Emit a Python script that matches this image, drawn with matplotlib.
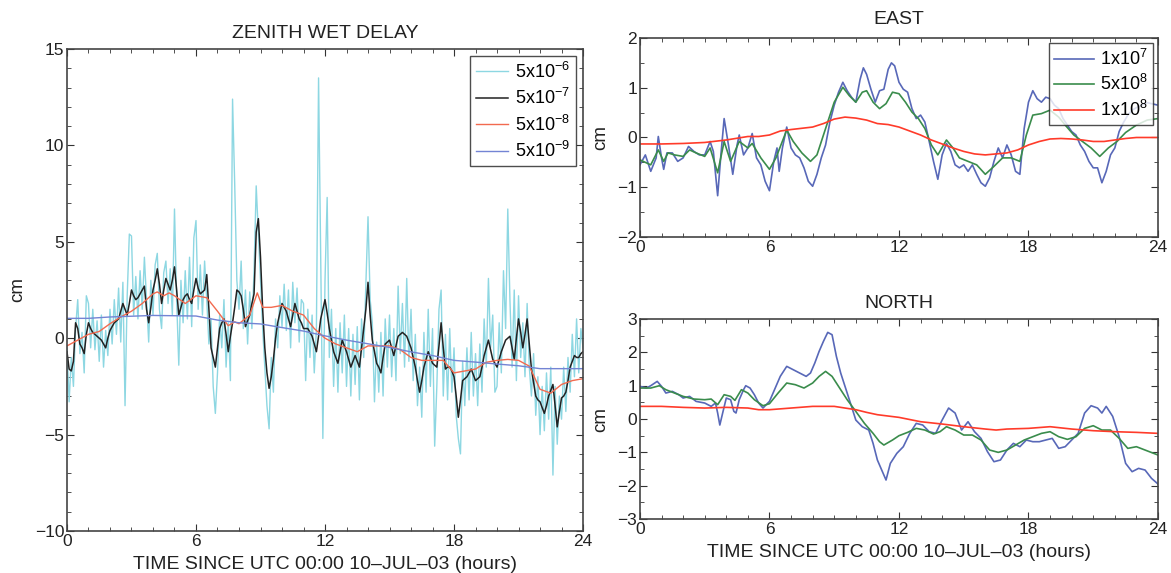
import numpy as np
import matplotlib
matplotlib.use("Agg")
import matplotlib.pyplot as plt
from matplotlib.ticker import MultipleLocator

plt.rcParams['font.family'] = ['Liberation Sans', 'DejaVu Sans']
plt.rcParams['mathtext.default'] = 'regular'

# ---- zenith wet delay, sampled every 0.1 h (cm) ----
zwd_t = np.linspace(0, 24, 241)
zwd_5e6 = [
    -0.5, -3.3, -1.0, -2.5, 0.5, 2.0, -0.8, 0.3, -1.8, 2.2,
    1.8, -0.5, 1.5, -0.6, 0.9, -1.2, 1.2, -1.5, 0.4, -0.9,
    1.5, -0.3, 2.0, 0.2, 2.6, -0.2, 2.9, -3.5, 2.2, 5.4,
    5.3, 1.2, 3.2, 1.0, 3.5, 1.5, 4.2, 2.0, -0.2, 3.0,
    1.2, 3.8, 4.4, 1.5, 0.5, 3.4, 4.0, 1.8, 3.6, 1.2,
    6.7, 2.0, -1.4, 3.0, 0.8, 3.5, 1.0, 4.2, 0.6, 5.2,
    6.1, 1.5, 3.8, 1.2, 4.0, 2.0, -0.3, 1.0, -2.5, -3.9,
    -1.8, 1.2, -0.5, 2.0, -1.5, 0.8, -2.2, 12.4, 8.0, 3.0,
    1.5, 4.0, 0.5, 2.5, -0.3, 2.4, 0.5, 3.5, 7.9, 5.5,
    3.0, 0.5, -1.5, -3.5, -4.7, -1.0, -2.8, 1.0, -0.5, 2.2,
    0.6, 2.8, 0.4, 2.5, -0.5, 2.9, 0.8, 2.6, -0.2, 2.0,
    1.8, -2.2, 1.5, -1.0, 1.2, -1.8, 0.5, 13.5, 4.0, -5.2,
    3.0, 7.3, -1.0, 1.5, -2.5, 0.5, -2.8, 0.8, -1.8, 1.2,
    -2.5, 0.5, -3.0, 0.2, -2.4, 0.6, -3.2, 1.0, -1.0, 2.8,
    6.3, 2.0, 0.8, -3.3, -0.2, -2.8, 0.3, -3.0, 1.0, -1.5,
    1.2, -2.0, 0.5, -2.2, 2.7, -0.8, 1.8, -1.5, 3.1, -1.2,
    1.5, -2.2, 0.2, -3.5, -1.5, -4.1, 0.3, -2.8, 1.5, -2.5,
    0.5, -5.6, -2.5, 1.5, 2.5, -3.0, 0.2, -3.2, 0.5, -2.8,
    -0.5, -4.0, -5.2, -6.0, -1.2, -3.5, -0.5, -3.2, 0.3, -3.0,
    -0.8, -3.5, -0.3, -2.8, 1.0, -1.5, 3.1, -0.5, 1.2, -2.8,
    -2.5, 0.8, -1.8, 3.5, 0.5, 6.7, 2.0, -1.5, 2.5, -2.2,
    2.2, -1.0, 0.8, -2.0, 1.8, -1.5, -3.0, -0.8, -4.0, -2.0,
    -5.0, -2.5, -4.8, -1.8, -4.2, -1.5, -7.1, -2.5, -5.5, -3.0,
    -4.2, -1.5, -3.8, -1.0, -2.8, 0.2, -2.0, 1.0, -1.8, 0.5,
    -0.5]
zwd_5e7 = [
    -0.7, -1.6, -1.7, -1.2, 0.8, 0.5, -0.3, -0.5, -0.8, 0.2,
    0.8, 0.5, 0.3, 0.2, 0.1, 0.0, -0.1, -0.3, -0.5, 0.0,
    0.4, 0.6, 0.8, 0.9, 1.0, 1.4, 1.8, 1.5, 1.2, 1.8,
    2.5, 2.2, 2.0, 2.1, 2.3, 2.5, 2.7, 1.5, 0.8, 1.6,
    2.5, 3.0, 3.6, 2.8, 1.8, 2.5, 3.1, 2.8, 2.5, 3.0,
    3.7, 2.5, 1.2, 1.6, 2.0, 2.2, 2.3, 2.0, 1.8, 2.5,
    3.1, 2.6, 2.3, 2.4, 2.5, 3.3, 1.5, -0.5, -1.0, -1.5,
    -0.5, 0.5, 0.8, 1.0, 0.2, -0.7, 0.1, 0.8, 1.6, 2.5,
    2.4, 2.2, 1.5, 0.6, 0.9, 1.2, 1.8, 2.3, 5.5, 6.2,
    4.2, 1.5, -0.5, -1.8, -2.6, -2.0, -1.1, 0.0, 0.8, 1.3,
    1.8, 1.6, 1.4, 1.0, 0.6, 1.2, 1.8, 1.4, 1.0, 0.8,
    0.5, 0.5, 0.5, 0.3, 0.1, -0.3, -0.7, 0.1, 1.0, 1.5,
    2.0, 1.3, 0.5, -0.1, -0.7, -1.0, -1.3, -0.7, -0.1, -0.4,
    -0.7, -1.1, -1.5, -1.2, -0.9, -1.2, -1.5, -0.5, 0.5, 1.5,
    2.9, 1.2, -0.1, -0.7, -1.3, -1.5, -1.8, -1.0, -0.3, -0.2,
    -0.1, -0.5, -0.9, -0.4, 0.1, 0.2, 0.3, 0.2, 0.1, -0.2,
    -0.5, -1.0, -1.5, -2.2, -2.8, -2.2, -1.5, -1.1, -0.7, -1.0,
    -1.3, -1.4, -1.5, -0.4, 0.8, -0.5, -1.6, -1.5, -1.5, -1.7,
    -2.0, -3.0, -4.1, -3.2, -2.2, -2.1, -2.0, -1.8, -1.6, -1.9,
    -2.2, -2.1, -2.0, -1.5, -0.9, -0.5, -0.1, -0.6, -1.1, -1.3,
    -1.5, -1.1, -0.7, -0.4, -0.1, 0.0, 0.1, -0.5, -1.1, 0.0,
    1.0, 0.3, -0.5, 0.2, 1.0, -0.3, -1.6, -2.3, -3.0, -3.2,
    -3.3, -3.6, -3.9, -3.5, -3.0, -2.7, -2.4, -3.5, -4.6, -3.8,
    -3.1, -3.0, -2.8, -2.2, -1.5, -1.2, -0.9, -1.0, -1.0, -0.8,
    -0.7]

zwd8_t = [0, 0.5, 1, 1.5, 2, 2.5, 3, 3.5, 4, 4.2, 4.5, 4.75, 5, 5.5, 6, 6.5, 7,
          7.5, 7.8, 8, 8.5, 8.85, 9.1, 9.5, 10, 10.5, 11, 11.5, 12, 12.5, 13,
          13.5, 14, 14.5, 15, 15.5, 16, 16.5, 17, 17.5, 18, 18.5, 19, 19.5,
          20, 20.5, 21, 21.5, 22, 22.5, 23, 23.5, 24]
zwd_5e8 = [-0.4, -0.1, 0.2, 0.35, 0.75, 1.1, 1.4, 1.8, 2.3, 2.4, 2.2, 2.35, 2.2,
           1.8, 2.2, 2.1, 1.4, 0.65, 0.85, 0.75, 1.2, 2.35, 1.6, 1.6, 1.7, 1.4,
           1.2, 0.5, 0.0, -0.3, -0.5, -0.7, -0.4, -0.4, -0.4, -0.6, -1.0, -1.15,
           -1.15, -1.15, -1.8, -1.7, -1.6, -1.25, -1.15, -1.1, -1.15, -1.45,
           -2.65, -2.85, -2.4, -2.2, -2.1]

zwd9_t = [0, 1, 2, 4, 6, 7, 8, 9, 10, 11, 12, 13, 14, 15, 16, 17, 18, 19, 20,
          21, 22, 23, 24]
zwd_5e9 = [1.03, 1.03, 1.1, 1.18, 1.15, 0.94, 0.80, 0.74, 0.55, 0.37, 0.12,
           -0.10, -0.29, -0.48, -0.71, -0.90, -1.15, -1.24, -1.34, -1.43,
           -1.58, -1.58, -1.58]

# ---- EAST (cm) ----
east7_t = [0, 0.25, 0.5, 0.75, 0.85, 1.0, 1.1, 1.25, 1.5, 1.75, 2.0, 2.25, 2.5,
           2.75, 3.0, 3.25, 3.4, 3.6, 3.75, 3.9, 4.1, 4.3, 4.5, 4.6, 4.8, 5.0,
           5.2, 5.4, 5.6, 5.8, 6.0, 6.2, 6.35, 6.45, 6.6, 6.8, 7.0, 7.2, 7.4,
           7.6, 7.8, 8.0, 8.2, 8.4, 8.6, 8.8, 9.0, 9.2, 9.4, 9.6, 9.8, 10.0,
           10.2, 10.35, 10.5, 10.7, 10.9, 11.1, 11.3, 11.5, 11.65, 11.8, 12.0,
           12.2, 12.4, 12.6, 12.8, 13.0, 13.2, 13.4, 13.6, 13.8, 14.0, 14.2,
           14.4, 14.6, 14.8, 15.0, 15.2, 15.4, 15.6, 15.8, 16.0, 16.2, 16.4,
           16.6, 16.8, 17.0, 17.2, 17.4, 17.6, 17.8, 18.0, 18.2, 18.4, 18.6,
           18.8, 19.0, 19.2, 19.4, 19.6, 19.8, 20.0, 20.2, 20.4, 20.6, 20.8,
           21.0, 21.2, 21.4, 21.6, 21.8, 22.0, 22.2, 22.4, 22.6, 22.8, 23.0,
           23.5, 24.0]
east_1e7 = [-0.55, -0.35, -0.68, -0.41, 0.02, -0.41, -0.64, -0.31, -0.31, -0.48,
            -0.41, -0.18, -0.28, -0.35, -0.35, -0.08, -0.28, -1.17, -0.35, 0.38,
            -0.15, -0.74, -0.15, 0.05, -0.35, -0.21, 0.08, -0.41, -0.55, -0.88,
            -1.07, -0.48, -0.21, -0.68, -0.21, 0.21, -0.21, -0.35, -0.41, -0.61,
            -0.88, -0.98, -0.74, -0.41, -0.15, 0.31, 0.65, 0.91, 1.11, 0.94,
            0.81, 0.71, 1.17, 1.40, 1.27, 0.97, 0.71, 0.94, 0.97, 1.37, 1.50,
            1.44, 1.11, 0.97, 0.91, 0.58, 0.38, 0.45, 0.31, -0.08, -0.48, -0.84,
            -0.35, -0.12, -0.28, -0.55, -0.61, -0.55, -0.68, -0.55, -0.74,
            -0.91, -0.98, -0.81, -0.48, -0.21, -0.41, -0.15, -0.35, -0.68,
            -0.74, 0.18, 0.71, 0.94, 0.78, 0.71, 0.81, 0.78, 0.65, 0.58, 0.38,
            0.25, 0.12, 0.05, -0.15, -0.28, -0.48, -0.61, -0.61, -0.91, -0.68,
            -0.35, -0.21, 0.12, 0.30, 0.45, 0.55, 0.60, 0.70, 0.65]

east58_t = [0, 0.5, 0.85, 1.1, 1.3, 1.6, 2.0, 2.3, 2.6, 3.0, 3.25, 3.6, 3.9, 4.2,
            4.6, 5.0, 5.2, 5.6, 6.0, 6.3, 6.8, 7.1, 7.5, 7.9, 8.2, 8.6, 9.0,
            9.4, 9.7, 10.0, 10.3, 10.5, 10.8, 11.1, 11.4, 11.7, 12.0, 12.3,
            12.6, 12.9, 13.2, 13.5, 13.8, 14.2, 14.5, 14.8, 15.2, 15.6, 16.0,
            16.4, 16.8, 17.2, 17.6, 17.9, 18.2, 18.6, 19.0, 19.4, 19.7, 20.1,
            20.5, 20.9, 21.3, 21.7, 22.1, 22.5, 23.0, 23.5, 24.0]
east_5e8 = [-0.45, -0.55, -0.25, -0.48, -0.31, -0.35, -0.38, -0.25, -0.31, -0.38,
            -0.21, -0.71, -0.08, -0.48, -0.08, -0.21, -0.12, -0.41, -0.64, -0.41,
            0.15, -0.08, -0.31, -0.48, -0.35, 0.18, 0.71, 1.01, 0.84, 0.71, 0.91,
            0.94, 0.71, 0.58, 0.68, 0.91, 0.88, 0.71, 0.51, 0.38, 0.18, -0.15,
            -0.35, -0.05, -0.21, -0.41, -0.48, -0.55, -0.74, -0.58, -0.41, -0.41,
            -0.48, 0.05, 0.45, 0.48, 0.55, 0.41, 0.25, 0.05, -0.08, -0.21, -0.38,
            -0.21, -0.08, 0.10, 0.25, 0.35, 0.38]

east18_t = [0, 1, 2, 3, 4, 5, 5.5, 6, 6.5, 7, 8, 8.5, 9, 9.5, 10, 10.5, 11, 11.5,
            12, 12.5, 13, 13.5, 14, 14.5, 15, 15.5, 16, 16.5, 17, 17.5, 18, 18.5,
            19, 19.5, 20, 20.5, 21, 21.5, 22, 22.5, 23, 24]
east_1e8 = [-0.13, -0.13, -0.12, -0.10, -0.05, 0.02, 0.02, 0.05, 0.13, 0.16, 0.21,
            0.28, 0.37, 0.41, 0.39, 0.35, 0.28, 0.26, 0.21, 0.13, 0.05, -0.05,
            -0.13, -0.21, -0.28, -0.33, -0.35, -0.33, -0.31, -0.25, -0.15, -0.08,
            -0.03, -0.02, -0.03, -0.05, -0.08, -0.08, -0.05, -0.02, 0.0, 0.0]

# ---- NORTH (cm) ----
north7_t = [0, 0.3, 0.5, 0.8, 1.0, 1.2, 1.5, 1.8, 2.0, 2.3, 2.6, 3.0, 3.3, 3.5,
            3.6, 3.7, 3.85, 4.0, 4.2, 4.35, 4.45, 4.6, 4.8, 4.9, 5.1, 5.3, 5.5,
            5.7, 6.0, 6.3, 6.5, 6.8, 7.1, 7.4, 7.7, 7.9, 8.1, 8.3, 8.5, 8.7,
            8.9, 9.1, 9.3, 9.6, 9.8, 10.0, 10.3, 10.6, 10.8, 11.0, 11.2, 11.4,
            11.6, 11.9, 12.2, 12.5, 12.8, 13.1, 13.4, 13.7, 14.0, 14.3, 14.6,
            14.9, 15.2, 15.5, 15.8, 16.1, 16.4, 16.7, 17.0, 17.3, 17.6, 17.9,
            18.2, 18.5, 18.8, 19.1, 19.4, 19.7, 20.0, 20.3, 20.6, 20.9, 21.2,
            21.4, 21.6, 21.9, 22.2, 22.5, 22.8, 23.1, 23.4, 23.7, 24.0]
north_1e7 = [0.98, 0.93, 1.0, 1.13, 0.98, 0.78, 0.83, 0.73, 0.63, 0.68, 0.53,
             0.48, 0.38, 0.48, 0.18, -0.18, 0.23, 0.63, 0.58, 0.23, 0.18, 0.58,
             0.88, 1.0, 0.93, 0.73, 0.48, 0.33, 0.53, 0.98, 1.28, 1.58, 1.48,
             1.38, 1.28, 1.38, 1.68, 2.03, 2.33, 2.60, 2.53, 1.88, 1.38, 0.78,
             0.38, -0.03, -0.23, -0.33, -0.73, -1.23, -1.53, -1.83, -1.33, -1.03,
             -0.83, -0.43, -0.13, -0.18, -0.38, -0.43, -0.03, 0.33, 0.18, -0.33,
             -0.08, -0.38, -0.58, -0.98, -1.28, -1.23, -0.93, -0.73, -0.83,
             -0.63, -0.68, -0.68, -0.63, -0.58, -0.88, -0.83, -0.63, -0.43, 0.18,
             0.40, 0.33, 0.18, 0.38, 0.08, -0.53, -1.33, -1.58, -1.48, -1.53,
             -1.78, -1.95]

north58_t = [0, 0.5, 0.9, 1.2, 1.6, 2.0, 2.5, 3.0, 3.3, 3.6, 3.9, 4.2, 4.4, 4.7,
             5.0, 5.3, 5.7, 6.0, 6.4, 6.8, 7.2, 7.6, 8.0, 8.3, 8.6, 8.9, 9.2,
             9.6, 10.0, 10.4, 10.8, 11.1, 11.3, 11.7, 12.0, 12.4, 12.8, 13.2,
             13.6, 13.9, 14.2, 14.6, 15.0, 15.4, 15.8, 16.2, 16.6, 17.0, 17.4,
             17.8, 18.2, 18.6, 19.0, 19.4, 19.8, 20.2, 20.6, 21.0, 21.4, 21.8,
             22.2, 22.6, 23.0, 23.4, 23.8, 24.0]
north_5e8 = [0.93, 0.93, 1.0, 0.88, 0.78, 0.68, 0.60, 0.58, 0.60, 0.43, 0.73,
             0.68, 0.56, 0.88, 0.78, 0.58, 0.40, 0.46, 0.78, 1.08, 1.03, 0.93,
             1.08, 1.28, 1.43, 1.28, 0.98, 0.58, 0.23, -0.13, -0.43, -0.68,
             -0.78, -0.63, -0.50, -0.40, -0.28, -0.33, -0.45, -0.38, -0.23,
             -0.33, -0.48, -0.48, -0.63, -0.93, -1.0, -0.93, -0.78, -0.63,
             -0.53, -0.43, -0.38, -0.53, -0.61, -0.53, -0.28, -0.20, -0.33,
             -0.33, -0.58, -0.88, -0.83, -0.93, -1.03, -1.08]

north18_t = [0, 1, 2, 3, 4, 5, 5.5, 6, 7, 8, 9, 9.5, 10, 10.5, 11, 12, 13, 14,
             15, 16, 16.5, 17, 18, 19, 20, 21, 22, 23, 24]
north_1e8 = [0.38, 0.38, 0.35, 0.33, 0.35, 0.33, 0.28, 0.28, 0.33, 0.38, 0.38,
             0.33, 0.28, 0.20, 0.13, 0.05, -0.08, -0.15, -0.23, -0.30, -0.33,
             -0.30, -0.28, -0.23, -0.30, -0.35, -0.38, -0.40, -0.43]

xlabel = 'TIME SINCE UTC 00:00 10\u2013JUL\u201303 (hours)'


def style_axes(ax, ymin, ymax, ymajor, yminor):
    ax.set_xlim(0, 24)
    ax.set_ylim(ymin, ymax)
    ax.xaxis.set_major_locator(MultipleLocator(6))
    ax.xaxis.set_minor_locator(MultipleLocator(1))
    ax.yaxis.set_major_locator(MultipleLocator(ymajor))
    ax.yaxis.set_minor_locator(MultipleLocator(yminor))
    ax.tick_params(which='both', direction='in', top=True, right=True,
                   colors='#333333', labelcolor='#222222', labelsize=12.5)
    ax.tick_params(which='major', length=5, pad=2)
    ax.tick_params(which='minor', length=3)
    for s in ax.spines.values():
        s.set_color('#444444')
        s.set_linewidth(1.2)


fig = plt.figure(figsize=(11.71, 5.73), dpi=100)

# left panel
ax = fig.add_axes([0.0572, 0.0733, 0.4407, 0.8412])
ax.plot(zwd_t, zwd_5e6, color='#8dd7e2', lw=1.0, label='$5x10^{-6}$')
ax.plot(zwd_t, zwd_5e7, color='#222222', lw=1.1, label='$5x10^{-7}$')
ax.plot(zwd8_t, zwd_5e8, color='#f26a4f', lw=1.0, label='$5x10^{-8}$')
ax.plot(zwd9_t, zwd_5e9, color='#7384d4', lw=1.0, label='$5x10^{-9}$')
style_axes(ax, -10, 15, 5, 1)
ax.set_title('ZENITH WET DELAY', fontsize=14, pad=8, color='#222222')
ax.set_ylabel('cm', fontsize=13.5, labelpad=6, color='#222222')
ax.set_xlabel(xlabel, fontsize=14, labelpad=5, color='#222222')
leg = ax.legend(loc='upper right', fontsize=13, frameon=True, fancybox=False,
                edgecolor='#222222', handlelength=1.8, labelspacing=0.35,
                borderpad=0.3, handletextpad=0.4, borderaxespad=0.4)
leg.get_frame().set_linewidth(1.0)

# EAST
ax = fig.add_axes([0.5465, 0.5864, 0.4424, 0.3473])
ax.plot(east7_t, east_1e7, color='#5868b8', lw=1.2, label='$1x10^{7}$')
ax.plot(east58_t, east_5e8, color='#3a8c4c', lw=1.2, label='$5x10^{8}$')
ax.plot(east18_t, east_1e8, color='#ff3b2a', lw=1.2, label='$1x10^{8}$')
style_axes(ax, -2, 2, 1, 0.5)
ax.set_title('EAST', fontsize=14, pad=10, color='#222222')
ax.set_ylabel('cm', fontsize=13.5, labelpad=6, color='#222222')
leg = ax.legend(loc='upper right', fontsize=13, frameon=True, fancybox=False,
                edgecolor='#222222', handlelength=2.2, labelspacing=0.3,
                borderpad=0.3, handletextpad=0.3, borderaxespad=0.3)
leg.get_frame().set_linewidth(1.0)
leg.set_zorder(5)

# NORTH
ax = fig.add_axes([0.5465, 0.0942, 0.4424, 0.349])
ax.plot(north7_t, north_1e7, color='#5868b8', lw=1.2)
ax.plot(north58_t, north_5e8, color='#3a8c4c', lw=1.2)
ax.plot(north18_t, north_1e8, color='#ff3b2a', lw=1.2)
style_axes(ax, -3, 3, 1, 0.5)
ax.set_title('NORTH', fontsize=14, pad=8, color='#222222')
ax.set_ylabel('cm', fontsize=13.5, labelpad=6, color='#222222')
ax.set_xlabel(xlabel, fontsize=14, labelpad=5, color='#222222')

fig.savefig('out.png', dpi=100)
